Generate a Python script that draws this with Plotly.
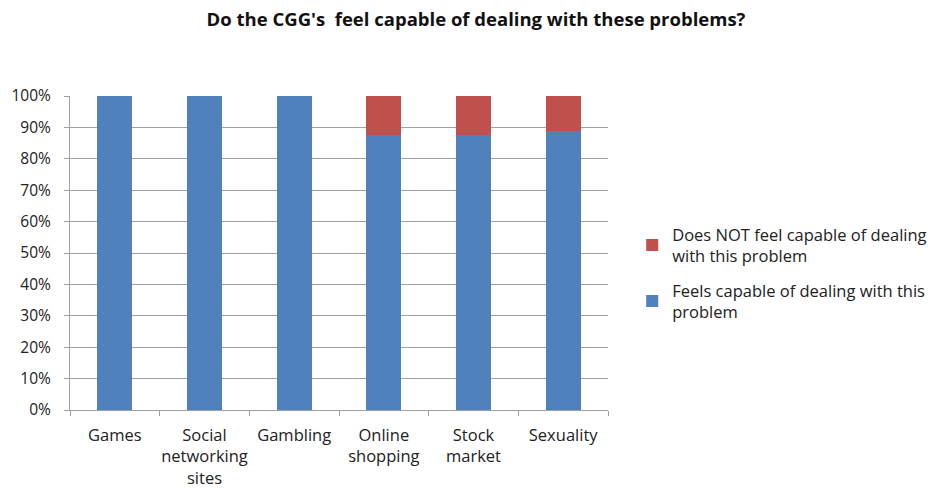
import plotly.graph_objects as go

categories = ["Games", "Social<br>networking<br>sites", "Gambling", "Online<br>shopping", "Stock<br>market", "Sexuality"]
feels_capable = [1.0, 1.0, 1.0, 0.875, 0.875, 0.889]
not_capable = [0.0, 0.0, 0.0, 0.125, 0.125, 0.111]
tick_vals = [0, 0.1, 0.2, 0.3, 0.4, 0.5, 0.6, 0.7, 0.8, 0.9, 1.0]
tick_text = ["0%", "10%", "20%", "30%", "40%", "50%", "60%", "70%", "80%", "90%", "100%"]

font_family = "'Open Sans', sans-serif"

fig = go.Figure()
fig.add_trace(go.Bar(x=categories, y=feels_capable, name="Feels capable of dealing with this<br>problem",
                     legendgroup="capable", legendrank=2,
                     marker=dict(color="#4F81BD", line=dict(width=0))))
fig.add_trace(go.Bar(x=categories, y=not_capable, name="Does NOT feel capable of dealing<br>with this problem",
                     legendgroup="notcapable", legendrank=1,
                     marker=dict(color="#C0504D", line=dict(width=0))))

fig.update_layout(
    barmode="stack",
    bargap=0.61,
    width=928, height=488,
    margin=dict(l=70, r=320, t=96, b=78, autoexpand=False),
    plot_bgcolor="white", paper_bgcolor="white",
    font=dict(family=font_family, size=14, color="#222222"),
    title=dict(text="<b>Do the CGG's  feel capable of dealing with these problems?</b>",
               x=476/928, xanchor="center", y=1 - 20/488, yanchor="middle",
               font=dict(size=18.5, color="#111111")),
    legend=dict(x=1.045, xanchor="left", y=0.436, yanchor="middle",
                traceorder="grouped", font=dict(size=16.5, color="#222222"),
                itemsizing="constant", tracegroupgap=10, itemwidth=30),
    showlegend=True,
)
fig.update_xaxes(showline=True, linecolor="#A0A0A0", linewidth=1, ticks="outside",
                 tickson="boundaries", ticklen=5, tickcolor="#A0A0A0", tickangle=0,
                 tickfont=dict(size=16.5), showgrid=False, ticklabelstandoff=10, automargin=False)
fig.update_yaxes(range=[0, 1.0], tickvals=tick_vals, ticktext=tick_text, showline=True,
                 linecolor="#A0A0A0", linewidth=1, ticks="outside", ticklen=5,
                 tickcolor="#A0A0A0", gridcolor="#A0A0A0", gridwidth=1,
                 tickfont=dict(size=15.5), zeroline=False, ticklabelstandoff=10, automargin=False)

fig.write_html("out.html")
